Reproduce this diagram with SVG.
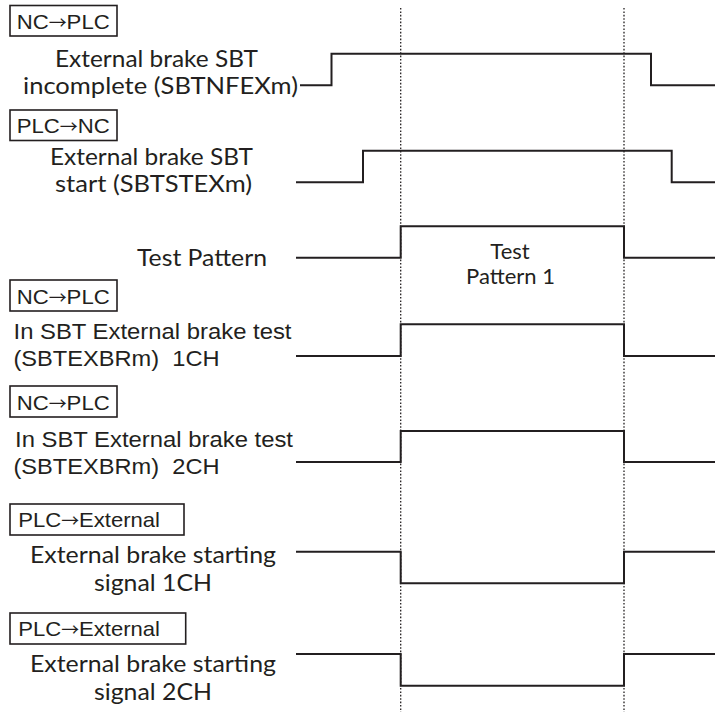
<svg xmlns="http://www.w3.org/2000/svg" width="716" height="715" viewBox="0 0 716 715">
<style>
.bg{fill:#ffffff}
.box{fill:none;stroke:#231f20;stroke-width:1.6}
.bt{font-family:"Liberation Sans",Arial,sans-serif;font-size:21px;fill:#231f20}
.ar{font-family:"Noto Sans CJK JP","Noto Sans CJK SC",sans-serif;font-size:17px}
.lb{font-family:Lato,"Open Sans",sans-serif;font-size:24px;fill:#231f20}
.al{font-family:"Liberation Sans",Arial,sans-serif;font-size:22.5px;fill:#231f20}
.tp{font-family:Lato,"Open Sans",sans-serif;font-size:22px;fill:#231f20}
.wave{fill:none;stroke:#231f20;stroke-width:2;stroke-linejoin:miter;stroke-linecap:butt}
.dot{stroke:#231f20;stroke-width:1.3;stroke-dasharray:1.6 1.8}
</style>
<rect class="bg" x="0" y="0" width="716" height="715"/>

<g id="connectors">
  <line class="dot" x1="400.7" y1="8" x2="400.7" y2="712"/>
  <line class="dot" x1="624" y1="8" x2="624" y2="712"/>
</g>

<g id="sig-sbtnfex">
  <rect class="box" x="10" y="5.5" width="107" height="30.5"/>
  <text class="bt" x="16.7" y="29" textLength="93" lengthAdjust="spacingAndGlyphs">NC<tspan class="ar">→</tspan>PLC</text>
  <text class="lb" x="55" y="67" textLength="203" lengthAdjust="spacingAndGlyphs">External brake SBT</text>
  <text class="lb" x="23" y="93.5" textLength="275" lengthAdjust="spacingAndGlyphs">incomplete (SBTNFEXm)</text>
  <path class="wave" d="M300,85.3 H331.5 V53.7 H651 V85.3 H715"/>
</g>

<g id="sig-sbtstex">
  <rect class="box" x="10" y="110" width="107" height="30.5"/>
  <text class="bt" x="16.7" y="133" textLength="93" lengthAdjust="spacingAndGlyphs">PLC<tspan class="ar">→</tspan>NC</text>
  <text class="lb" x="50" y="165" textLength="203" lengthAdjust="spacingAndGlyphs">External brake SBT</text>
  <text class="lb" x="55" y="192" textLength="197" lengthAdjust="spacingAndGlyphs">start (SBTSTEXm)</text>
  <path class="wave" d="M296,182.3 H363 V150.7 H671.7 V182.3 H715"/>
</g>

<g id="sig-testpattern">
  <text class="lb" x="137" y="266" textLength="130" lengthAdjust="spacingAndGlyphs">Test Pattern</text>
  <path class="wave" d="M296,257.7 H400.7 V226.3 H624 V257.7 H715"/>
  <text class="tp" x="510" y="258.5" text-anchor="middle">Test</text>
  <text class="tp" x="510.5" y="284" text-anchor="middle">Pattern 1</text>
</g>

<g id="sig-sbtexbr-1ch">
  <rect class="box" x="10" y="280" width="107" height="31"/>
  <text class="bt" x="16.7" y="304" textLength="93" lengthAdjust="spacingAndGlyphs">NC<tspan class="ar">→</tspan>PLC</text>
  <text class="al" x="13.5" y="339" textLength="278" lengthAdjust="spacingAndGlyphs">In SBT External brake test</text>
  <text class="al" x="13.5" y="366" xml:space="preserve" textLength="206" lengthAdjust="spacingAndGlyphs">(SBTEXBRm)  1CH</text>
  <path class="wave" d="M296,356 H400.7 V324.3 H624 V356 H715"/>
</g>

<g id="sig-sbtexbr-2ch">
  <rect class="box" x="10" y="386" width="107" height="31"/>
  <text class="bt" x="16.7" y="410" textLength="93" lengthAdjust="spacingAndGlyphs">NC<tspan class="ar">→</tspan>PLC</text>
  <text class="al" x="15" y="447" textLength="278" lengthAdjust="spacingAndGlyphs">In SBT External brake test</text>
  <text class="al" x="13.5" y="474" xml:space="preserve" textLength="206" lengthAdjust="spacingAndGlyphs">(SBTEXBRm)  2CH</text>
  <path class="wave" d="M296,462 H400.7 V431 H624 V462 H715"/>
</g>

<g id="sig-extbrake-1ch">
  <rect class="box" x="10" y="504" width="174" height="31"/>
  <text class="bt" x="18.3" y="527" textLength="141.7" lengthAdjust="spacingAndGlyphs">PLC<tspan class="ar">→</tspan>External</text>
  <text class="lb" x="30" y="563" textLength="246" lengthAdjust="spacingAndGlyphs">External brake starting</text>
  <text class="lb" x="94" y="591" textLength="118" lengthAdjust="spacingAndGlyphs">signal 1CH</text>
  <path class="wave" d="M296,551.7 H400.7 V583.3 H624 V551.7 H715"/>
</g>

<g id="sig-extbrake-2ch">
  <rect class="box" x="10" y="613" width="175.7" height="31"/>
  <text class="bt" x="18.3" y="636" textLength="141.7" lengthAdjust="spacingAndGlyphs">PLC<tspan class="ar">→</tspan>External</text>
  <text class="lb" x="30" y="672" textLength="246" lengthAdjust="spacingAndGlyphs">External brake starting</text>
  <text class="lb" x="94" y="700" textLength="118" lengthAdjust="spacingAndGlyphs">signal 2CH</text>
  <path class="wave" d="M296,654 H400.7 V685.7 H624 V654 H715"/>
</g>
</svg>
